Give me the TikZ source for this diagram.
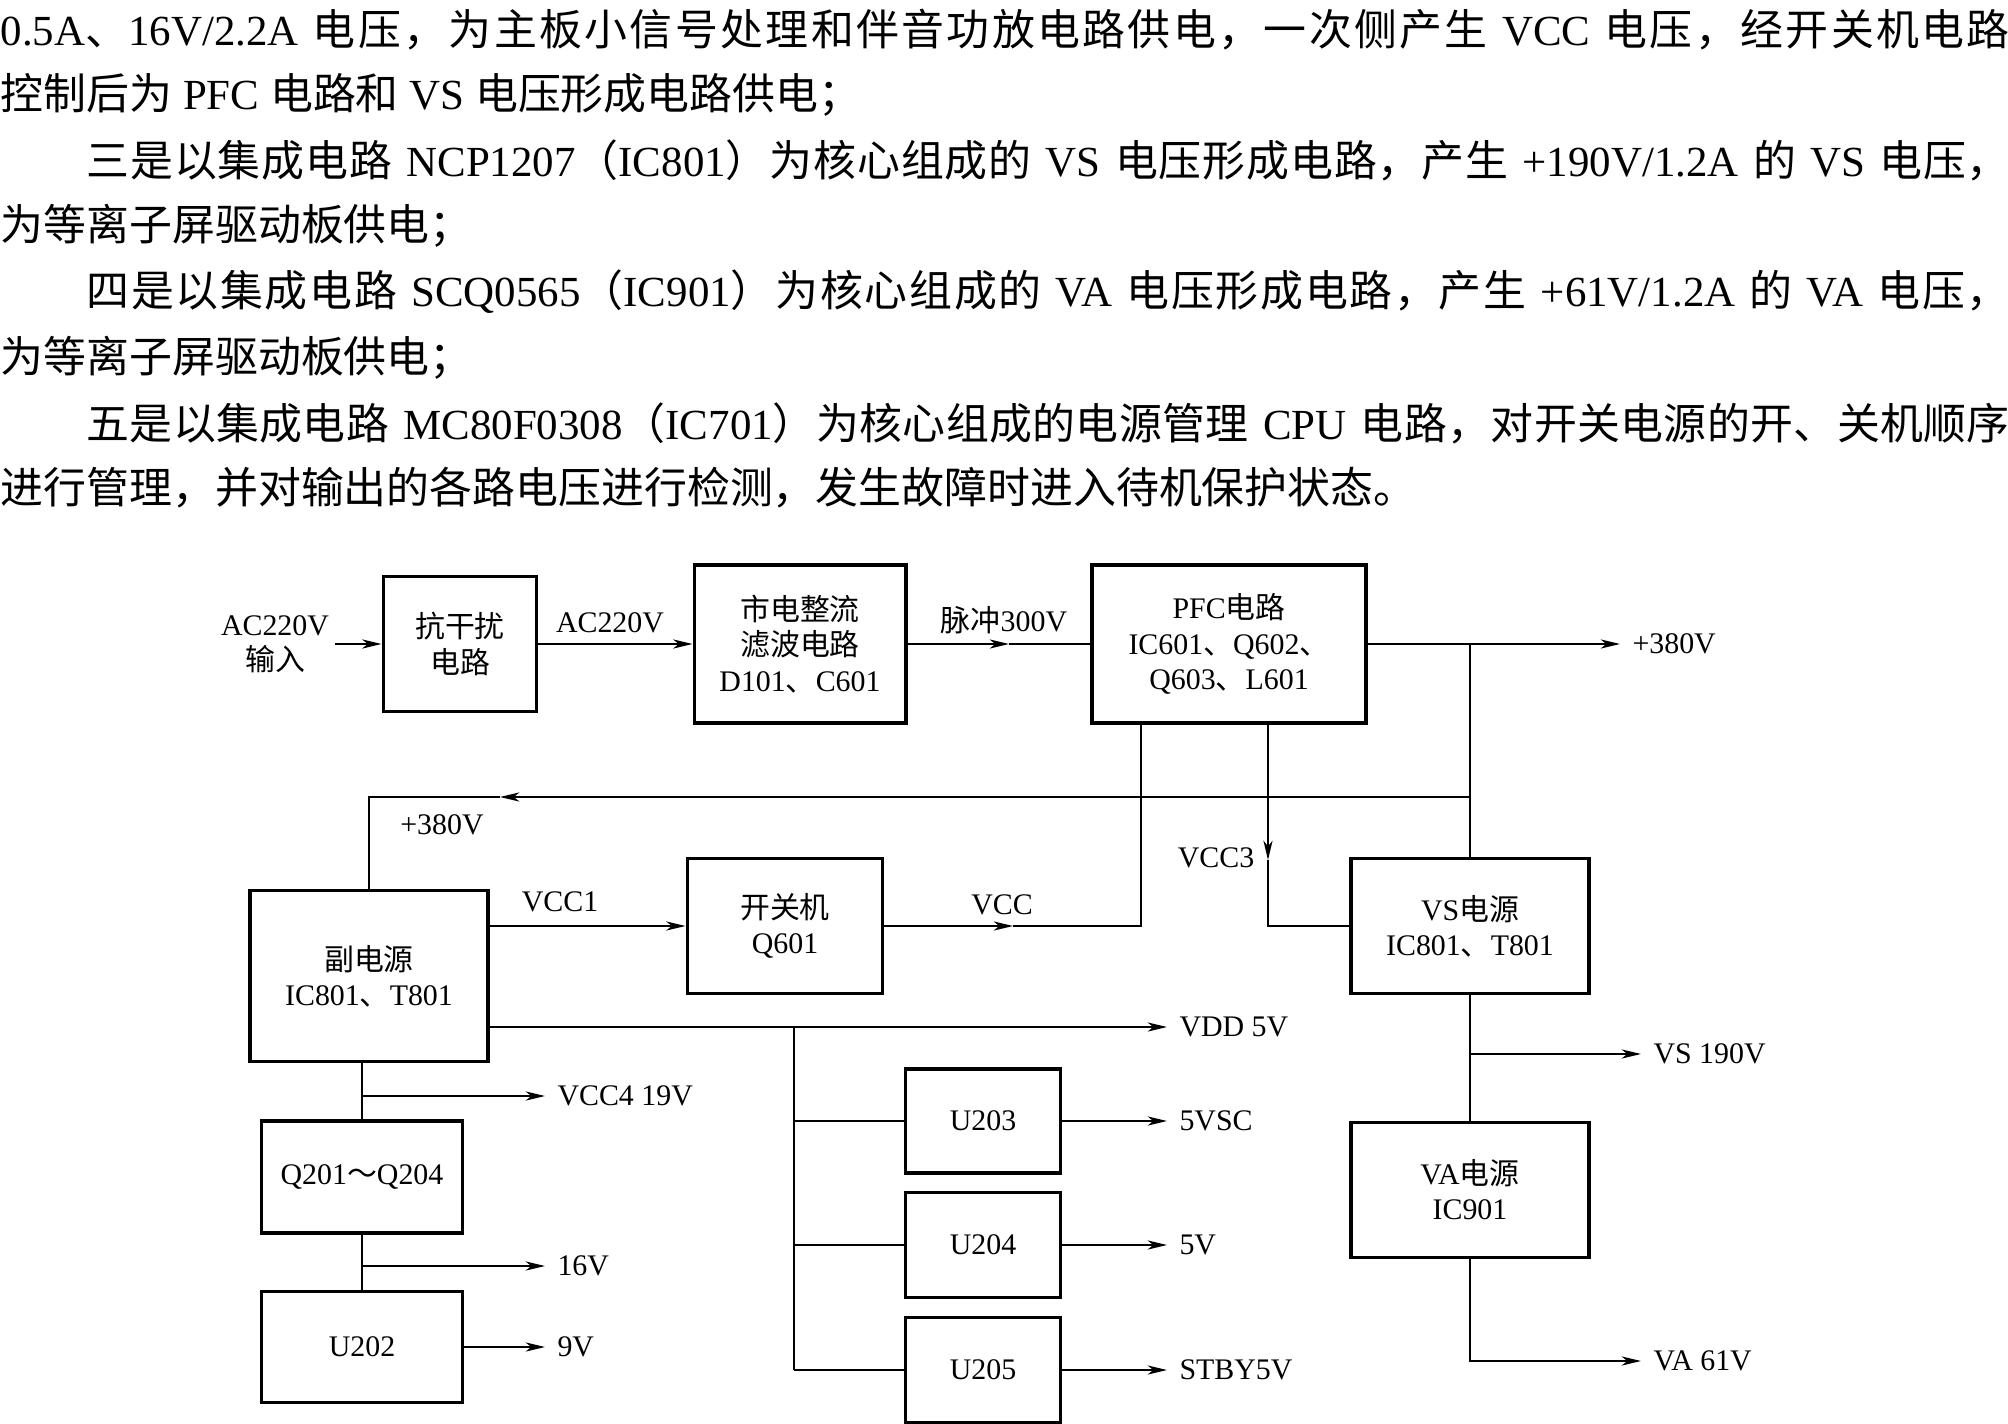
\documentclass[tikz,border=0pt]{standalone}
\usepackage{fontspec}
\usepackage{tikz}
\usetikzlibrary{arrows.meta}
\setmainfont{Liberation Serif}
\newfontfamily\cjkfont{Noto Sans CJK SC}
% Chinese characters switch to the CJK font by themselves
\XeTeXinterchartokenstate=1
\newXeTeXintercharclass\hanclass
\newcount\hancode
\def\sethan#1#2{\hancode=#1 \loop\XeTeXcharclass\hancode=\hanclass\advance\hancode by 1 \ifnum\hancode<#2 \repeat}
\sethan{"3000}{"3040}
\sethan{"4E00}{"A000}
\sethan{"FF00}{"FFF0}
\XeTeXinterchartoks 0 \hanclass={\cjkfont}
\XeTeXinterchartoks 4095 \hanclass={\cjkfont}
\XeTeXinterchartoks \hanclass 0={\rmfamily}
\XeTeXinterchartoks \hanclass 4095={\rmfamily}
\XeTeXinterchartoks \hanclass \hanclass={\hskip 0pt plus 2pt\relax}
\newcommand\bodysize{\fontsize{12.2}{14}\selectfont}
\newcommand\diagsize{\fontsize{8.5}{10}\selectfont}
\newcommand\fullline{\leftskip=0pt \rightskip=0pt \parfillskip=0pt \tolerance=10000 \hbadness=10000 \noindent}
\tikzset{
    blk/.style={draw, line width=1.1pt, align=center, inner sep=2pt},
    ln/.style={line width=0.45pt},
    arr/.style={ln, -{Stealth[length=5.5pt, width=2.6pt, inset=1.6pt]}},
    body/.style={anchor=west, inner sep=0pt, font=\bodysize}
}

\begin{document}
\begin{tikzpicture}[x=0.01cm, y=-0.01cm, font=\diagsize]
    \useasboundingbox (0,0) rectangle (2008,1424);

    % --- TEXT ABOVE THE DIAGRAM ---
    \node[body, text width=20.08cm] (l1) at (0,30) {\fullline 0.5A、16V/2.2A 电压，为主板小信号处理和伴音功放电路供电，一次侧产生 VCC 电压，经开关机电路\par};
    \node[body] (l2) at (0,95) {控制后为 PFC 电路和 VS 电压形成电路供电；};
    \node[body, text width=20.08cm] (l3) at (0,160) {\fullline\hspace*{2em}三是以集成电路 NCP1207（IC801）为核心组成的 VS 电压形成电路，产生 +190V/1.2A 的 VS 电压，\par};
    \node[body] (l4) at (0,226) {为等离子屏驱动板供电；};
    \node[body, text width=20.08cm] (l5) at (0,292) {\fullline\hspace*{2em}四是以集成电路 SCQ0565（IC901）为核心组成的 VA 电压形成电路，产生 +61V/1.2A 的 VA 电压，\par};
    \node[body] (l6) at (0,358) {为等离子屏驱动板供电；};
    \node[body, text width=20.08cm] (l7) at (0,423) {\fullline\hspace*{2em}五是以集成电路 MC80F0308（IC701）为核心组成的电源管理 CPU 电路，对开关电源的开、关机顺序\par};
    \node[body] (l8) at (0,488) {进行管理，并对输出的各路电压进行检测，发生故障时进入待机保护状态。};

    % --- BLOCKS ---
    \node[blk, minimum width=1.53cm, minimum height=1.35cm] (emi) at (460,644) {抗干扰\\电路};
    \node[blk, minimum width=2.11cm, minimum height=1.58cm] (rect) at (800,644) {市电整流\\滤波电路\\D101、C601};
    \node[blk, minimum width=2.74cm, minimum height=1.58cm] (pfc) at (1229,644) {PFC电路\\IC601、Q602、\\Q603、L601};
    \node[blk, minimum width=2.38cm, minimum height=1.71cm] (aux) at (369,976) {副电源\\IC801、T801};
    \node[blk, minimum width=1.95cm, minimum height=1.35cm] (sw) at (785,926) {开关机\\Q601};
    \node[blk, minimum width=2.38cm, minimum height=1.35cm] (vs) at (1470,926) {VS电源\\IC801、T801};
    \node[blk, minimum width=2.38cm, minimum height=1.35cm] (va) at (1470,1190) {VA电源\\IC901};
    \node[blk, minimum width=2.01cm, minimum height=1.12cm] (qsw) at (362,1177) {Q201～Q204};
    \node[blk, minimum width=2.01cm, minimum height=1.11cm] (u202) at (362,1347) {U202};
    \node[blk, minimum width=1.55cm, minimum height=1.04cm] (u203) at (983,1121) {U203};
    \node[blk, minimum width=1.55cm, minimum height=1.05cm] (u204) at (983,1245) {U204};
    \node[blk, minimum width=1.55cm, minimum height=1.05cm] (u205) at (983,1370) {U205};

    % --- FREE ENDS AND COLUMNS ---
    \coordinate (inr) at (335,644);
    \coordinate (m300) at (1009,644);
    \coordinate (j380) at (1470,644);
    \coordinate (o380) at (1620,644);
    \coordinate (r380) at (1470,797);
    \coordinate (m380) at (500,797);
    \coordinate (c380) at (369,797);
    \coordinate (kx) at (1141,0);
    \coordinate (cx) at (1268,0);
    \coordinate (bx) at (794,0);
    \coordinate (mvcc) at (1013,926);
    \coordinate (m3) at (1268,860);
    \coordinate (vdd) at (1167,1027);
    \coordinate (o19) at (545,1096);
    \coordinate (o16) at (545,1266);
    \coordinate (o190) at (1641,1054);
    \coordinate (o61) at (1641,1361);

    % --- MAINS PATH ---
    \node[align=center] (acin) at (275,644) {AC220V\\输入};
    \draw[arr] (inr) -- (emi.west);
    \draw[arr] (emi.east) -- (rect.west);
    \node (acmid) at (610,623) {AC220V};
    \draw[arr] (rect.east) -- (m300);
    \draw[ln] (m300) -- (pfc.west);
    \node (p300) at (1004,620) {脉冲300V};
    \draw[arr] (pfc.east) -- (o380) node[right] (t380) {+380V};
    \draw[ln] (j380) -- (vs.north);

    % +380V back to the aux supply
    \draw[arr] (r380) -- (m380);
    \draw[ln] (m380) -- (c380) -- (aux.north);
    \node (t380b) at (442,825) {+380V};

    % --- STANDBY / SWITCHING ---
    \draw[arr] (aux.east |- sw.west) -- (sw.west);
    \node (tvcc1) at (560,902) {VCC1};
    \draw[arr] (sw.east) -- (mvcc);
    \draw[ln] (mvcc) -- (sw.east -| kx) -- (pfc.south -| kx);
    \node (tvcc) at (1002,905) {VCC};
    \draw[arr] (pfc.south -| cx) -- (m3);
    \draw[ln] (m3) -- (vs.west -| cx) -- (vs.west);
    \node (tvcc3) at (1216,858) {VCC3};

    % 5V rails
    \draw[arr] (aux.east |- vdd) -- (vdd) node[right] (tvdd) {VDD 5V};
    \draw[ln] (bx |- vdd) -- (bx |- u205.west);
    \foreach \u/\t in {u203/5VSC, u204/5V, u205/STBY5V} {
        \draw[ln] (bx |- \u.west) -- (\u.west);
        \draw[arr] (\u.east) -- (\u.east -| vdd) node[right] (t\u) {\t};
    }

    % --- LEFT COLUMN ---
    \draw[ln] (qsw.north |- aux.south) -- (qsw.north);
    \draw[arr] (qsw.north |- o19) -- (o19) node[right] (t19) {VCC4 19V};
    \draw[ln] (qsw.south) -- (u202.north);
    \draw[arr] (qsw.south |- o16) -- (o16) node[right] (t16) {16V};
    \draw[arr] (u202.east) -- (u202.east -| o16) node[right] (t9) {9V};

    % --- RIGHT COLUMN ---
    \draw[ln] (vs.south) -- (va.north);
    \draw[arr] (vs.south |- o190) -- (o190) node[right] (t190) {VS 190V};
    \draw[arr] (va.south) -- (va.south |- o61) -- (o61) node[right] (t61) {VA 61V};

\end{tikzpicture}
\end{document}
